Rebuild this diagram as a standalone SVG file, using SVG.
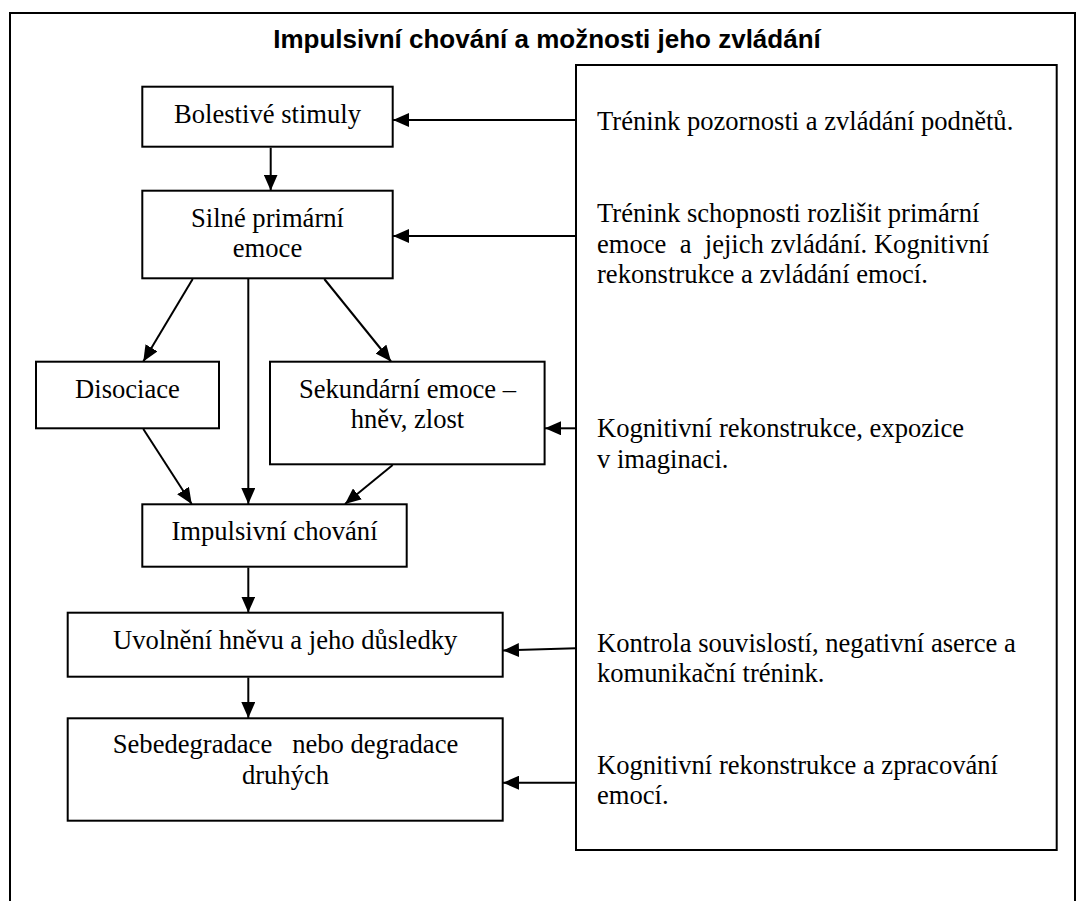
<svg xmlns="http://www.w3.org/2000/svg" width="1082" height="901" viewBox="0 0 1082 901">
<style>
.box{fill:#fff;stroke:#000;stroke-width:2}
.t{font-family:"Liberation Serif","Times New Roman",serif;font-size:26.6px;fill:#000}
.c{text-anchor:middle}
.title{font-family:"Liberation Sans",Arial,sans-serif;font-size:26px;font-weight:bold;text-anchor:middle;fill:#000}
.ln{stroke:#000;stroke-width:2;fill:none;marker-end:url(#ah)}
</style>
<defs>
<marker id="ah" markerUnits="userSpaceOnUse" markerWidth="16" markerHeight="14" refX="16" refY="7" orient="auto">
<path d="M0,0 L16,7 L0,14 z" fill="#000"/>
</marker>
</defs>
<rect width="1082" height="901" fill="#fff"/>
<g id="frame">
<rect x="10" y="13" width="1065" height="920" fill="none" stroke="#000" stroke-width="2"/>
<text class="title" x="547" y="48">Impulsivní chování a možnosti jeho zvládání</text>
</g>
<g id="strategies">
<rect class="box" x="576" y="65" width="480.7" height="785"/>
<text class="t" x="597" y="130">Trénink pozornosti a zvládání podnětů.</text>
<text class="t" x="597" y="222" xml:space="preserve">Trénink schopnosti rozlišit primární</text>
<text class="t" x="597" y="252.5" xml:space="preserve">emoce  a  jejich zvládání. Kognitivní</text>
<text class="t" x="597" y="283">rekonstrukce a zvládání emocí.</text>
<text class="t" x="597" y="437">Kognitivní rekonstrukce, expozice</text>
<text class="t" x="597" y="467.5">v imaginaci.</text>
<text class="t" x="597" y="652">Kontrola souvislostí, negativní aserce a</text>
<text class="t" x="597" y="682">komunikační trénink.</text>
<text class="t" x="597" y="773.5">Kognitivní rekonstrukce a zpracování</text>
<text class="t" x="597" y="803.5">emocí.</text>
</g>
<g id="bolestive">
<rect class="box" x="142.3" y="86.7" width="250.4" height="60"/>
<text class="t c" x="267.5" y="123">Bolestivé stimuly</text>
</g>
<g id="silne">
<rect class="box" x="142.3" y="190.7" width="250.4" height="87.6"/>
<text class="t c" x="267.5" y="226.7">Silné primární</text>
<text class="t c" x="267.5" y="256.7">emoce</text>
</g>
<g id="disociace">
<rect class="box" x="36" y="361.7" width="183" height="66.6"/>
<text class="t c" x="127.5" y="398.3">Disociace</text>
</g>
<g id="sekundarni">
<rect class="box" x="270" y="361.7" width="274.6" height="102.6"/>
<text class="t c" x="407.5" y="398.3">Sekundární emoce –</text>
<text class="t c" x="407.5" y="428.3">hněv, zlost</text>
</g>
<g id="impulsivni">
<rect class="box" x="142.3" y="504.3" width="264.4" height="62.4"/>
<text class="t c" x="274.5" y="540">Impulsivní chování</text>
</g>
<g id="uvolneni">
<rect class="box" x="67.7" y="612.7" width="435" height="64"/>
<text class="t c" x="285.2" y="649.3">Uvolnění hněvu a jeho důsledky</text>
</g>
<g id="sebedegradace">
<rect class="box" x="67.7" y="718.3" width="435" height="102.4"/>
<text class="t c" x="285.5" y="753.3" xml:space="preserve">Sebedegradace   nebo degradace</text>
<text class="t c" x="285.5" y="784">druhých</text>
</g>
<g id="connectors">
<line class="ln" x1="270.7" y1="147.7" x2="270.7" y2="190.5"/>
<line class="ln" x1="192.7" y1="279" x2="143.3" y2="361.5"/>
<line class="ln" x1="248.3" y1="279" x2="248.3" y2="504"/>
<line class="ln" x1="324.3" y1="279" x2="391" y2="361.5"/>
<line class="ln" x1="143.3" y1="429" x2="191.7" y2="504"/>
<line class="ln" x1="392.7" y1="465" x2="345" y2="504"/>
<line class="ln" x1="248.3" y1="567.5" x2="248.3" y2="612.5"/>
<line class="ln" x1="248.3" y1="677.5" x2="248.3" y2="718"/>
<line class="ln" x1="576" y1="120" x2="393" y2="120"/>
<line class="ln" x1="576" y1="236" x2="393" y2="236"/>
<line class="ln" x1="576" y1="428.3" x2="545" y2="428.3"/>
<line class="ln" x1="576" y1="648.3" x2="503" y2="650.5"/>
<line class="ln" x1="576" y1="782.7" x2="503" y2="782.7"/>
</g>
</svg>
